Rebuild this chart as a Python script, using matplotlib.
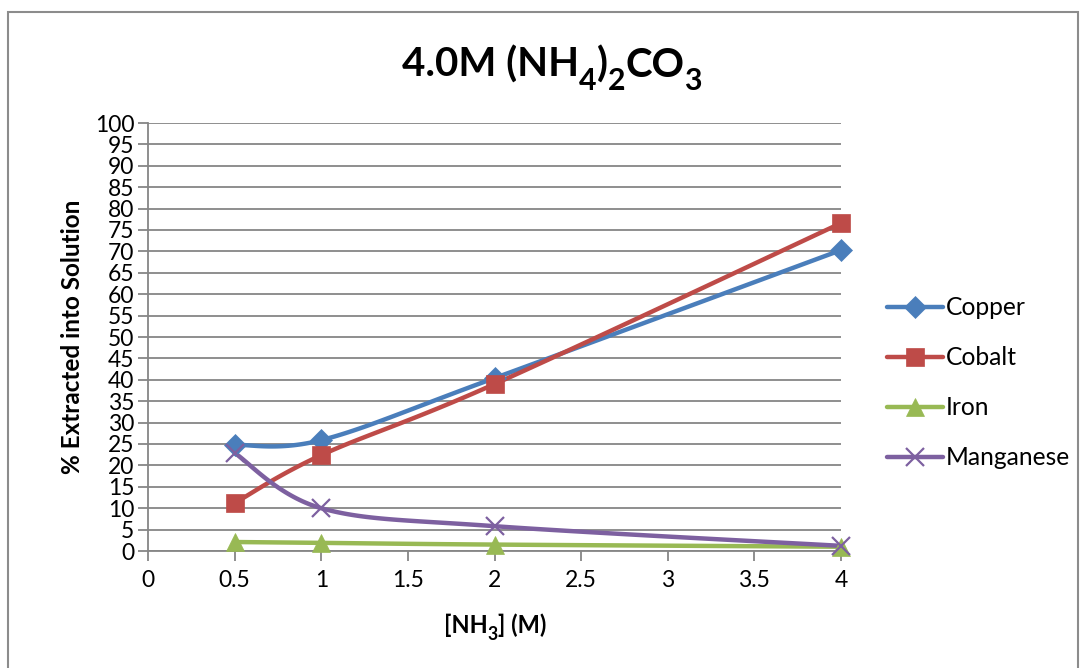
import numpy as np
import matplotlib.pyplot as plt
from matplotlib.patches import Rectangle

# concentration of NH3 (M)
nh3 = [0.5, 1, 2, 4]

copper = [24.8, 25.9, 40.4, 70.3]
cobalt = [11.2, 22.4, 39.0, 76.6]
iron = [2.1, 1.9, 1.5, 1.0]
manganese = [22.9, 10.0, 5.8, 1.2]

series_names = ['Copper', 'Cobalt', 'Iron', 'Manganese']
colors = ['#4A7EBB', '#BE4B48', '#98B954', '#7D60A0']
markers = ['D', 's', '^', 'x']
msizes = [11, 13, 13, 13]

yticks = list(range(0, 101, 5))
xticks = [0, 0.5, 1, 1.5, 2, 2.5, 3, 3.5, 4]
xticklabels = ['0', '0.5', '1', '1.5', '2', '2.5', '3', '3.5', '4']

# (text, is_subscript)
title_parts = [('4.0M (NH', False), ('4', True), (')', False), ('2', True),
               ('CO', False), ('3', True)]
xlabel_parts = [('[NH', False), ('3', True), ('] (M)', False)]

W, H = 1086, 668


def smoothCurve(xs, ys, n=40):
    '''
    Excel-like smoothed line: cubic Bezier segments with
    control points taken from neighbouring points (tension 1/6)
    '''
    xs = np.asarray(xs, dtype=float)
    ys = np.asarray(ys, dtype=float)
    px = np.concatenate([[xs[0]], xs, [xs[-1]]])
    py = np.concatenate([[ys[0]], ys, [ys[-1]]])
    t = np.linspace(0, 1, n)
    out_x, out_y = [], []
    for i in range(1, len(px) - 2):
        p0 = np.array([px[i], py[i]])
        p3 = np.array([px[i + 1], py[i + 1]])
        c1 = p0 + (np.array([px[i + 1], py[i + 1]]) - np.array([px[i - 1], py[i - 1]])) / 6
        c2 = p3 - (np.array([px[i + 2], py[i + 2]]) - np.array([px[i], py[i]])) / 6
        b = ((1 - t) ** 3)[:, None] * p0 + (3 * (1 - t) ** 2 * t)[:, None] * c1 \
            + (3 * (1 - t) * t ** 2)[:, None] * c2 + (t ** 3)[:, None] * p3
        out_x.extend(b[:, 0])
        out_y.extend(b[:, 1])
    return np.array(out_x), np.array(out_y)


def subscriptText(fig, xc, baseline, parts, fontsize, subscale, subdrop):
    '''
    Writes bold text with subscripts, centred at pixel xc, baseline at pixel
    row `baseline` (both counted from the top-left of the figure)
    '''
    renderer = fig.canvas.get_renderer()
    widths = []
    for s, sub in parts:
        t = fig.text(0, 0, s, fontsize=fontsize * (subscale if sub else 1), fontweight='bold')
        widths.append(t.get_window_extent(renderer).width)
        t.remove()
    x = xc - sum(widths) / 2
    for (s, sub), w in zip(parts, widths):
        y = baseline + (subdrop if sub else 0)
        fig.text(x / W, 1 - y / H, s, fontsize=fontsize * (subscale if sub else 1),
                 fontweight='bold', ha='left', va='baseline')
        x += w


plt.rcParams['font.family'] = ['Lato', 'DejaVu Sans']

fig = plt.figure(figsize=(W / 100, H / 100), dpi=100)
fig.patches.append(Rectangle((8 / W, -0.01), 1070 / W, 1 - 12 / H + 0.01,
                             transform=fig.transFigure, fill=False,
                             edgecolor='#8C8C8C', linewidth=1.5))

ax = fig.add_axes([148 / W, 1 - 551 / H, 693 / W, 428 / H])

for name, vals, col, mk, ms in zip(series_names, [copper, cobalt, iron, manganese],
                                   colors, markers, msizes):
    mew = 1.6 if mk == 'x' else 0.5
    sx, sy = smoothCurve(nh3, vals)
    ax.plot(sx, sy, color=col, linewidth=3.2, zorder=3, solid_capstyle='round', clip_on=False)
    ax.plot(nh3, vals, linestyle='None', marker=mk, markersize=ms, color=col,
            markeredgewidth=mew, zorder=4, clip_on=False)
    ax.plot([], [], color=col, linewidth=3.2, marker=mk, markersize=ms,
            markeredgewidth=mew, label=name, solid_capstyle='round')

ax.set_xlim(0, 4)
ax.set_ylim(0, 100)
ax.set_yticks(yticks)
ax.set_xticks(xticks)
ax.set_xticklabels(xticklabels)
ax.yaxis.grid(True, color='#868686', linewidth=1.3)
ax.set_axisbelow(True)
for s in ['top', 'right']:
    ax.spines[s].set_visible(False)
for s in ['left', 'bottom']:
    ax.spines[s].set_color('#868686')
    ax.spines[s].set_linewidth(1.3)
ax.tick_params(axis='both', colors='#868686', width=1.3, length=7, labelcolor='black',
               labelsize=16.5)
ax.tick_params(axis='y', pad=3)
ax.tick_params(axis='x', pad=7)

ax.set_ylabel('% Extracted into Solution', fontsize=17.5, fontweight='bold', labelpad=8)

subscriptText(fig, 552, 77, title_parts, 29, 0.75, 13)
subscriptText(fig, 495, 633, xlabel_parts, 17, 0.75, 7)

ax.legend(loc='center left', bbox_to_anchor=(1.066, 0.393), frameon=False, fontsize=17.7,
          handlelength=2.3, handletextpad=0.1, labelspacing=1.1, borderpad=0,
          borderaxespad=0)

fig.savefig('out.png', dpi=100)
